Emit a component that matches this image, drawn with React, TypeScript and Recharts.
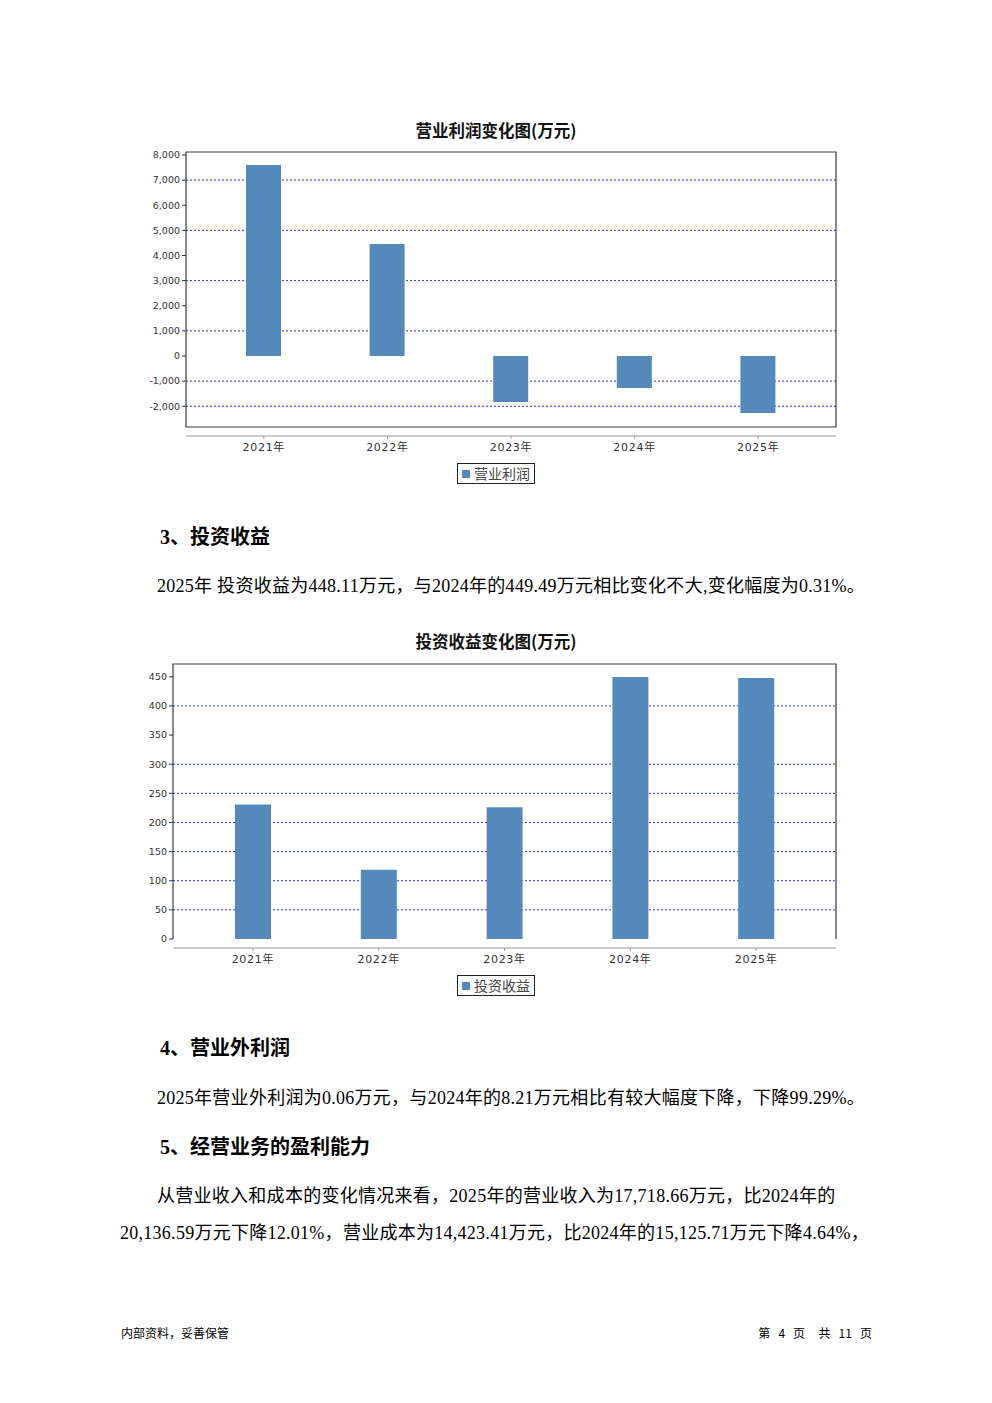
import React from "react";
import {
  BarChart,
  Bar,
  XAxis,
  YAxis,
  CartesianGrid,
  Legend,
  ReferenceArea,
} from "recharts";

const years = ["2021年", "2022年", "2023年", "2024年", "2025年"];
const operatingProfit = [7600, 4460, -1830, -1275, -2270];
const investmentIncome = [231, 119, 226, 449.49, 448.11];

const profitTicks = [-2000, -1000, 0, 1000, 2000, 3000, 4000, 5000, 6000, 7000, 8000];
const profitGrid = [-2000, -1000, 1000, 3000, 5000, 7000];
const investTicks = [0, 50, 100, 150, 200, 250, 300, 350, 400, 450];
const investGrid = [50, 100, 150, 200, 250, 300, 400];

const BAR = "#5589bb";
const GRID = "#2f2ff5";
const CN = '"Noto Sans CJK SC", "Noto Sans", sans-serif';
const BODY = '"Liberation Serif", "Noto Sans CJK SC", serif';

const profitData = years.map((year, i) => ({ year, value: operatingProfit[i] }));
const investData = years.map((year, i) => ({ year, value: investmentIncome[i] }));

// plot frame; the reference area spans only the padded category range, so widen it by the axis padding
const frame = (closed: boolean, pad: number) => (props: any) => {
  const { y, height } = props;
  const x = props.x - pad;
  const width = props.width + pad * 2;
  const d = closed
    ? `M${x},${y}H${x + width}V${y + height}H${x}Z`
    : `M${x},${y + height}V${y}H${x + width}V${y + height}`;
  return <path d={d} fill="none" stroke="#3a3a3a" strokeWidth={1.2} />;
};

const legendBox = (label: string, shift: number) => () => (
  <div style={{ display: "flex", justifyContent: "center", paddingTop: 7, paddingLeft: shift }}>
    <div
      style={{
        border: "1.5px solid #222",
        height: 19,
        display: "flex",
        alignItems: "center",
        padding: "0 4px",
        fontFamily: CN,
        fontSize: 14,
        color: "#444",
        lineHeight: "19px",
      }}
    >
      <span style={{ width: 8, height: 8, background: BAR, marginRight: 4, display: "inline-block" }} />
      {label}
    </div>
  </div>
);

const tickStyle = { fontSize: 9.5, fill: "#333", fontFamily: '"DejaVu Sans", sans-serif' };
const xTickStyle = { fontSize: 11, fill: "#333", fontFamily: '"DejaVu Sans", "Noto Sans CJK SC", sans-serif', letterSpacing: 0.7 };

const fmt = (v: number) => v.toLocaleString("en-US");

const Title = ({ top, text }: { top: number; text: string }) => (
  <div
    style={{
      position: "absolute",
      top,
      left: 0,
      width: 992,
      textAlign: "center",
      fontFamily: CN,
      fontWeight: 700,
      fontSize: 16.5,
      lineHeight: "20px",
      color: "#111",
    }}
  >
    {text}
  </div>
);

const Line = ({ top, left, text, bold, size }: { top: number; left: number; text: string; bold?: boolean; size?: number }) => (
  <div
    style={{
      position: "absolute",
      top,
      left,
      whiteSpace: "nowrap",
      fontFamily: BODY,
      fontWeight: bold ? 700 : 400,
      fontSize: size ?? 18,
      letterSpacing: bold ? 0 : 0.27,
      lineHeight: "24px",
      color: "#000",
    }}
  >
    {text}
  </div>
);

export default function App() {
  return (
    <div style={{ position: "absolute", left: 0, top: 0, width: 992, height: 1403, background: "#fff" }}>
      <Title top={120} text="营业利润变化图(万元)" />
      <div style={{ position: "absolute", left: 140, top: 145 }}>
        <BarChart width={710} height={345} data={profitData} margin={{ top: 7, right: 14, left: 0, bottom: 6 }}>
          <CartesianGrid horizontalValues={profitGrid} vertical={false} stroke={GRID} strokeDasharray="2 2" />
          <XAxis
            dataKey="year"
            padding={{ left: 16, right: 16 }}
            height={20}
            axisLine={{ stroke: "#999" }}
            tickLine={{ stroke: "#999" }}
            tickSize={3}
            tickMargin={4}
            tick={xTickStyle}
            interval={0}
          />
          <YAxis
            type="number"
            domain={[-3184, 8119]}
            ticks={profitTicks}
            allowDataOverflow
            axisLine={false}
            tickLine={{ stroke: "#333" }}
            tickSize={4}
            tickMargin={2}
            width={46}
            tick={tickStyle}
            tickFormatter={fmt}
            interval={0}
          />
          <ReferenceArea y1={-2826} y2={8119} ifOverflow="visible" shape={frame(true, 16)} />
          <Bar dataKey="value" fill={BAR} barSize={35} isAnimationActive={false} name="营业利润" />
          <Legend verticalAlign="bottom" content={legendBox("营业利润", 16)} />
        </BarChart>
      </div>

      <Line top={525} left={160} text="3、投资收益" bold size={20} />
      <Line top={574} left={157} text="2025年 投资收益为448.11万元，与2024年的449.49万元相比变化不大,变化幅度为0.31%。" />

      <Title top={631} text="投资收益变化图(万元)" />
      <div style={{ position: "absolute", left: 130, top: 657 }}>
        <BarChart width={720} height={345} data={investData} margin={{ top: 7, right: 14, left: 0, bottom: 6 }}>
          <CartesianGrid horizontalValues={investGrid} vertical={false} stroke={GRID} strokeDasharray="2 2" />
          <XAxis
            dataKey="year"
            padding={{ left: 17, right: 17 }}
            height={20}
            axisLine={{ stroke: "#999" }}
            tickLine={{ stroke: "#999" }}
            tickSize={3}
            tickMargin={4}
            tick={xTickStyle}
            interval={0}
          />
          <YAxis
            type="number"
            domain={[-15.5, 472]}
            ticks={investTicks}
            allowDataOverflow
            axisLine={false}
            tickLine={{ stroke: "#333" }}
            tickSize={4}
            tickMargin={2}
            width={43}
            tick={tickStyle}
            tickFormatter={fmt}
            interval={0}
          />
          <ReferenceArea y1={0} y2={472} ifOverflow="visible" shape={frame(false, 17)} />
          <Bar dataKey="value" fill={BAR} barSize={36} isAnimationActive={false} name="投资收益" />
          <Legend verticalAlign="bottom" content={legendBox("投资收益", 26)} />
        </BarChart>
      </div>

      <Line top={1036} left={160} text="4、营业外利润" bold size={20} />
      <Line top={1086} left={157} text="2025年营业外利润为0.06万元，与2024年的8.21万元相比有较大幅度下降，下降99.29%。" />
      <Line top={1135} left={160} text="5、经营业务的盈利能力" bold size={20} />
      <Line top={1184} left={157} text="从营业收入和成本的变化情况来看，2025年的营业收入为17,718.66万元，比2024年的" />
      <Line top={1221} left={120} text="20,136.59万元下降12.01%，营业成本为14,423.41万元，比2024年的15,125.71万元下降4.64%，" />

      <div style={{ position: "absolute", top: 1325, left: 121, fontFamily: CN, fontSize: 12, lineHeight: "16px" }}>
        内部资料，妥善保管
      </div>
      <div style={{ position: "absolute", top: 1325, right: 120, fontFamily: CN, fontSize: 12, lineHeight: "16px", whiteSpace: "pre" }}>
        {"第   4   页     共   11   页"}
      </div>
    </div>
  );
}
